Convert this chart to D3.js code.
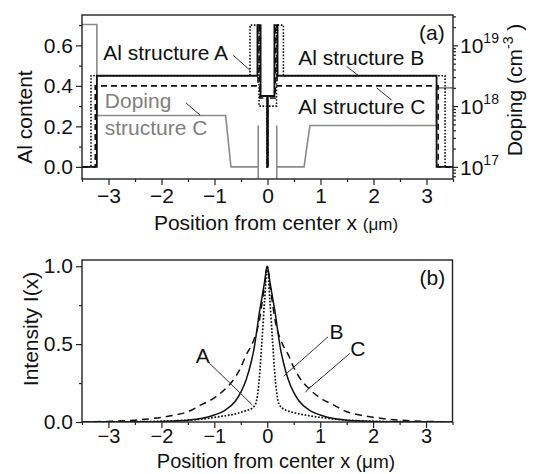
<!DOCTYPE html>
<html><head><meta charset="utf-8">
<script src="https://cdn.jsdelivr.net/npm/d3@7"></script>
<style>body{margin:0;background:#fff} text{font-family:"Liberation Sans",Arial,sans-serif;fill:#111}</style>
</head><body><svg id="c" width="534" height="474"></svg>
<script>
// ---------- DATA ----------
// (a) Al content profiles (x in µm, Al fraction)
const alA_x = [-3.5,-3.33,-3.33,-0.33,-0.33,-0.16,-0.16,-0.01,-0.01,0.01,0.01,0.17,0.17,0.30,0.30,3.35,3.35,3.5];
const alA_y = [0,0,0.45,0.45,0.70,0.70,0.30,0.30,0,0,0.30,0.30,0.70,0.70,0.45,0.45,0,0];
const alB_x = [-3.5,-3.22,-3.22,-0.19,-0.19,-0.13,-0.13,-0.006,-0.006,0.006,0.006,0.13,0.13,0.19,0.19,3.19,3.19,3.5];
const alB_y = [0,0,0.45,0.45,0.70,0.70,0.35,0.35,0,0,0.35,0.35,0.70,0.70,0.45,0.45,0,0];
const alC_x = [-3.5,-3.25,-3.25,-0.18,-0.18,-0.145,-0.145,-0.004,-0.004,0.004,0.004,0.145,0.145,0.18,0.18,3.22,3.22,3.5];
const alC_y = [0,0,0.40,0.40,0.70,0.70,0.34,0.34,0,0,0.34,0.34,0.70,0.70,0.40,0.40,0,0];
// (a) Doping profile of structure C (cm^-3)
const dop_x = [-3.5,-3.22,-3.22,-0.79,-0.69,-0.175,-0.175,-0.175,0.175,0.175,0.175,0.69,0.80,3.19,3.19,3.5];
const dop_y = [2.2e19,2.2e19,7e17,7e17,1e17,1e17,4.8e17,1e16,1e16,4.8e17,1e17,1e17,4.8e17,4.8e17,2e18,2e18];
// (b) Intensity profiles
const int_x = [-3.5,-3,-2.5,-2,-1.75,-1.5,-1.25,-1,-0.8,-0.6,-0.5,-0.4,-0.3,-0.25,-0.2,-0.15,-0.1,-0.05,0,0.05,0.1,0.15,0.2,0.25,0.3,0.4,0.5,0.6,0.8,1,1.25,1.5,1.75,2,2.5,3,3.5];
const intA = [0,0.001,0.002,0.005,0.008,0.012,0.018,0.03,0.04,0.052,0.062,0.073,0.085,0.1,0.14,0.28,0.52,0.78,1.0,0.78,0.52,0.28,0.14,0.1,0.085,0.07,0.06,0.052,0.04,0.03,0.02,0.012,0.008,0.005,0.002,0.001,0];
const intB = [0,0,0.001,0.004,0.007,0.012,0.022,0.045,0.075,0.135,0.19,0.27,0.39,0.47,0.58,0.70,0.80,0.90,1.0,0.90,0.80,0.70,0.58,0.47,0.39,0.27,0.19,0.135,0.075,0.045,0.022,0.012,0.007,0.004,0.001,0,0];
const intC = [0.001,0.004,0.012,0.03,0.045,0.066,0.11,0.155,0.21,0.29,0.35,0.43,0.49,0.53,0.58,0.65,0.76,0.88,1.0,0.88,0.76,0.65,0.58,0.53,0.49,0.43,0.35,0.29,0.21,0.155,0.11,0.066,0.045,0.03,0.012,0.004,0.001];
// ticks
const xTicks = [-3,-2,-1,0,1,2,3];
const xMinor = [-3.5,-2.5,-1.5,-0.5,0.5,1.5,2.5,3.5];
const alTicks = [0,0.2,0.4,0.6];
const alMinor = [0.1,0.3,0.5,0.7];
const dopMajor = [1e17,1e18,1e19];
const dopExp = ["17","18","19"];
const intTicks = [0,0.5,1.0];
const intMinor = [0.25,0.75];

// ---------- CHART ----------
const svg = d3.select("#c");
const FONT = 21;
const x1 = d3.scaleLinear().domain([-3.5,3.5]).range([82,453]);
const y1 = d3.scaleLinear().domain([-0.06,0.75]).range([179,15]);
const yD = d3.scaleLog().domain([Math.pow(10,16.8),Math.pow(10,19.5)]).range([179,15]);
const x2 = d3.scaleLinear().domain([-3.5,3.5]).range([82,452.5]);
const y2 = d3.scaleLinear().domain([0,1.04]).range([422,260]);

const defs = svg.append("defs");
defs.append("clipPath").attr("id","clipA").append("rect")
  .attr("x",x1(-3.5)).attr("y",y1(0.75)).attr("width",x1(3.5)-x1(-3.5)).attr("height",y1(-0.06)-y1(0.75));
defs.append("clipPath").attr("id","clipB").append("rect")
  .attr("x",x2(-3.5)).attr("y",y2(1.04)).attr("width",x2(3.5)-x2(-3.5)).attr("height",y2(0)-y2(1.04));

const zip = (a,b)=>a.map((v,i)=>[v,b[i]]);

function styleAxis(g, size){
  g.attr("font-size",size||FONT).attr("font-family","'Liberation Sans',Arial,sans-serif");
  g.select(".domain").remove();
  g.selectAll("line").attr("stroke","#222").attr("stroke-width",1.2);
  g.selectAll("text").attr("fill","#111");
}

// ----- panel (a) -----
const pa = svg.append("g");
const gA = pa.append("g").attr("clip-path","url(#clipA)");
const lineA = d3.line().x(d=>x1(d[0])).y(d=>y1(d[1]));
const lineD = d3.line().x(d=>x1(d[0])).y(d=>yD(d[1]));
gA.append("path").attr("d",lineD(zip(dop_x,dop_y))).attr("fill","none").attr("stroke","#8a8a8a").attr("stroke-width",1.6);
gA.append("path").attr("d",lineA(zip(alC_x,alC_y))).attr("fill","none").attr("stroke","#111").attr("stroke-width",1.6).attr("stroke-dasharray","6,4");
gA.append("path").attr("d",lineA(zip(alA_x,alA_y))).attr("fill","none").attr("stroke","#111").attr("stroke-width",1.6).attr("stroke-dasharray","1.6,1.6");
gA.append("path").attr("d",lineA(zip(alB_x,alB_y))).attr("fill","none").attr("stroke","#111").attr("stroke-width",1.8);

// axes (a)
const ax1 = pa.append("g").attr("transform",`translate(0,${y1(-0.06)})`).call(d3.axisBottom(x1).tickValues(xTicks).tickSize(6).tickPadding(3).tickFormat(d3.format("d")));
styleAxis(ax1);
const ax1m = pa.append("g").attr("transform",`translate(0,${y1(-0.06)})`).call(d3.axisBottom(x1).tickValues(xMinor).tickSize(3).tickFormat(""));
styleAxis(ax1m);
const ay1 = pa.append("g").attr("transform",`translate(${x1(-3.5)},0)`).call(d3.axisLeft(y1).tickValues(alTicks).tickSize(6).tickPadding(3).tickFormat(d3.format(".1f")));
styleAxis(ay1);
const ay1m = pa.append("g").attr("transform",`translate(${x1(-3.5)},0)`).call(d3.axisLeft(y1).tickValues(alMinor).tickSize(3).tickFormat(""));
styleAxis(ay1m);
const minorDop = [];
[16,17,18,19].forEach(e=>{for(let m=1;m<10;m++){const v=m*Math.pow(10,e); if(v>=Math.pow(10,16.8)&&v<=Math.pow(10,19.5)&&m!==1) minorDop.push(v);}});
const ayD = pa.append("g").attr("transform",`translate(${x1(3.5)},0)`).call(d3.axisRight(yD).tickValues(dopMajor).tickSize(5).tickFormat(""));
styleAxis(ayD);
const ayDm = pa.append("g").attr("transform",`translate(${x1(3.5)},0)`).call(d3.axisRight(yD).tickValues(minorDop).tickSize(3).tickFormat(""));
styleAxis(ayDm);
dopMajor.forEach((v,i)=>{
  const t = pa.append("text").attr("x",x1(3.5)+7).attr("y",yD(v)+8).attr("font-size",FONT);
  t.append("tspan").text("10");
  t.append("tspan").attr("font-size",14).attr("dy",-10).text(dopExp[i]);
});
pa.append("rect").attr("x",x1(-3.5)).attr("y",y1(0.75)).attr("width",x1(3.5)-x1(-3.5)).attr("height",y1(-0.06)-y1(0.75))
  .attr("fill","none").attr("stroke","#222").attr("stroke-width",1.4);

// titles (a)
const tA = pa.append("text").attr("x",276).attr("y",230).attr("text-anchor","middle").attr("font-size",FONT);
tA.append("tspan").text("Position from center x ");
tA.append("tspan").attr("font-size",17).text("(\u03bcm)");
pa.append("text").attr("transform","translate(31.5,117) rotate(-90)").attr("text-anchor","middle").attr("font-size",FONT).text("Al content");
const tD = pa.append("text").attr("transform","translate(521.5,90) rotate(-90)").attr("text-anchor","middle").attr("font-size",FONT);
tD.append("tspan").text("Doping (cm");
tD.append("tspan").attr("font-size",14).attr("dy",-9).text("-3");
tD.append("tspan").attr("dy",9).text(" )");

// annotations (a)
function ann(g,xs,ys,p,q){
  g.append("line").attr("x1",xs(p[0])).attr("y1",ys(p[1])).attr("x2",xs(q[0])).attr("y2",ys(q[1])).attr("stroke","#333").attr("stroke-width",1);
}
function label(g,xs,ys,txt,pos,anchor,color){
  g.append("text").attr("x",xs(pos[0])).attr("y",ys(pos[1])).attr("dy","0.36em").attr("text-anchor",anchor||"start")
   .attr("font-size",FONT).style("fill",color||"#111").text(txt);
}
label(pa,x1,y1,"Al structure A",[-3.10,0.566]);
ann(pa,x1,y1,[-0.645,0.551],[-0.33,0.477]);
label(pa,x1,y1,"Al structure B",[0.58,0.542]);
ann(pa,x1,y1,[1.49,0.497],[1.71,0.452]);
label(pa,x1,y1,"Al structure C",[0.58,0.30]);
ann(pa,x1,y1,[2.06,0.39],[2.34,0.33]);
label(pa,x1,y1,"Doping",[-3.07,0.33],"start","#808080");
label(pa,x1,y1,"structure C",[-3.07,0.196],"start","#808080");
ann(pa,x1,y1,[-1.54,0.316],[-1.27,0.255]);
label(pa,x1,y1,"(a)",[3.1,0.666],"middle");

// ----- panel (b) -----
const pb = svg.append("g");
const gB = pb.append("g").attr("clip-path","url(#clipB)");
const lineI = d3.line().x(d=>x2(d[0])).y(d=>y2(d[1])).curve(d3.curveMonotoneX);
gB.append("path").attr("d",lineI(zip(int_x,intC))).attr("fill","none").attr("stroke","#111").attr("stroke-width",1.5).attr("stroke-dasharray","7,5");
gB.append("path").attr("d",lineI(zip(int_x,intA))).attr("fill","none").attr("stroke","#111").attr("stroke-width",1.7).attr("stroke-dasharray","1.7,1.7");
gB.append("path").attr("d",lineI(zip(int_x,intB))).attr("fill","none").attr("stroke","#111").attr("stroke-width",1.5);

const ax2 = pb.append("g").attr("transform",`translate(0,${y2(0)})`).call(d3.axisBottom(x2).tickValues(xTicks).tickSize(6).tickPadding(1).tickFormat(d3.format("d")));
styleAxis(ax2, 20);
const ax2m = pb.append("g").attr("transform",`translate(0,${y2(0)})`).call(d3.axisBottom(x2).tickValues(xMinor).tickSize(3).tickFormat(""));
styleAxis(ax2m);
const ay2 = pb.append("g").attr("transform",`translate(${x2(-3.5)},0)`).call(d3.axisLeft(y2).tickValues(intTicks).tickSize(6).tickPadding(3).tickFormat(d3.format(".1f")));
styleAxis(ay2);
const ay2m = pb.append("g").attr("transform",`translate(${x2(-3.5)},0)`).call(d3.axisLeft(y2).tickValues(intMinor).tickSize(3).tickFormat(""));
styleAxis(ay2m);
pb.append("rect").attr("x",x2(-3.5)).attr("y",y2(1.04)).attr("width",x2(3.5)-x2(-3.5)).attr("height",y2(0)-y2(1.04))
  .attr("fill","none").attr("stroke","#222").attr("stroke-width",1.4);

const tB = pb.append("text").attr("x",276).attr("y",468).attr("text-anchor","middle").attr("font-size",20);
tB.append("tspan").text("Position from center x ");
tB.append("tspan").attr("font-size",19).text("(\u03bcm)");
pb.append("text").attr("transform","translate(38,329) rotate(-90)").attr("text-anchor","middle").attr("font-size",FONT).text("Intensity I(x)");

label(pb,x2,y2,"A",[-1.22,0.43],"middle");
ann(pb,x2,y2,[-1.12,0.387],[-0.28,0.109]);
label(pb,x2,y2,"B",[1.31,0.58],"middle");
ann(pb,x2,y2,[1.15,0.547],[0.31,0.295]);
label(pb,x2,y2,"C",[1.71,0.47],"middle");
ann(pb,x2,y2,[1.56,0.44],[0.77,0.21]);
ann(pb,x2,y2,[0.72,0.19],[0.82,0.23]);
label(pb,x2,y2,"(b)",[3.12,0.925],"middle");
</script></body></html>
